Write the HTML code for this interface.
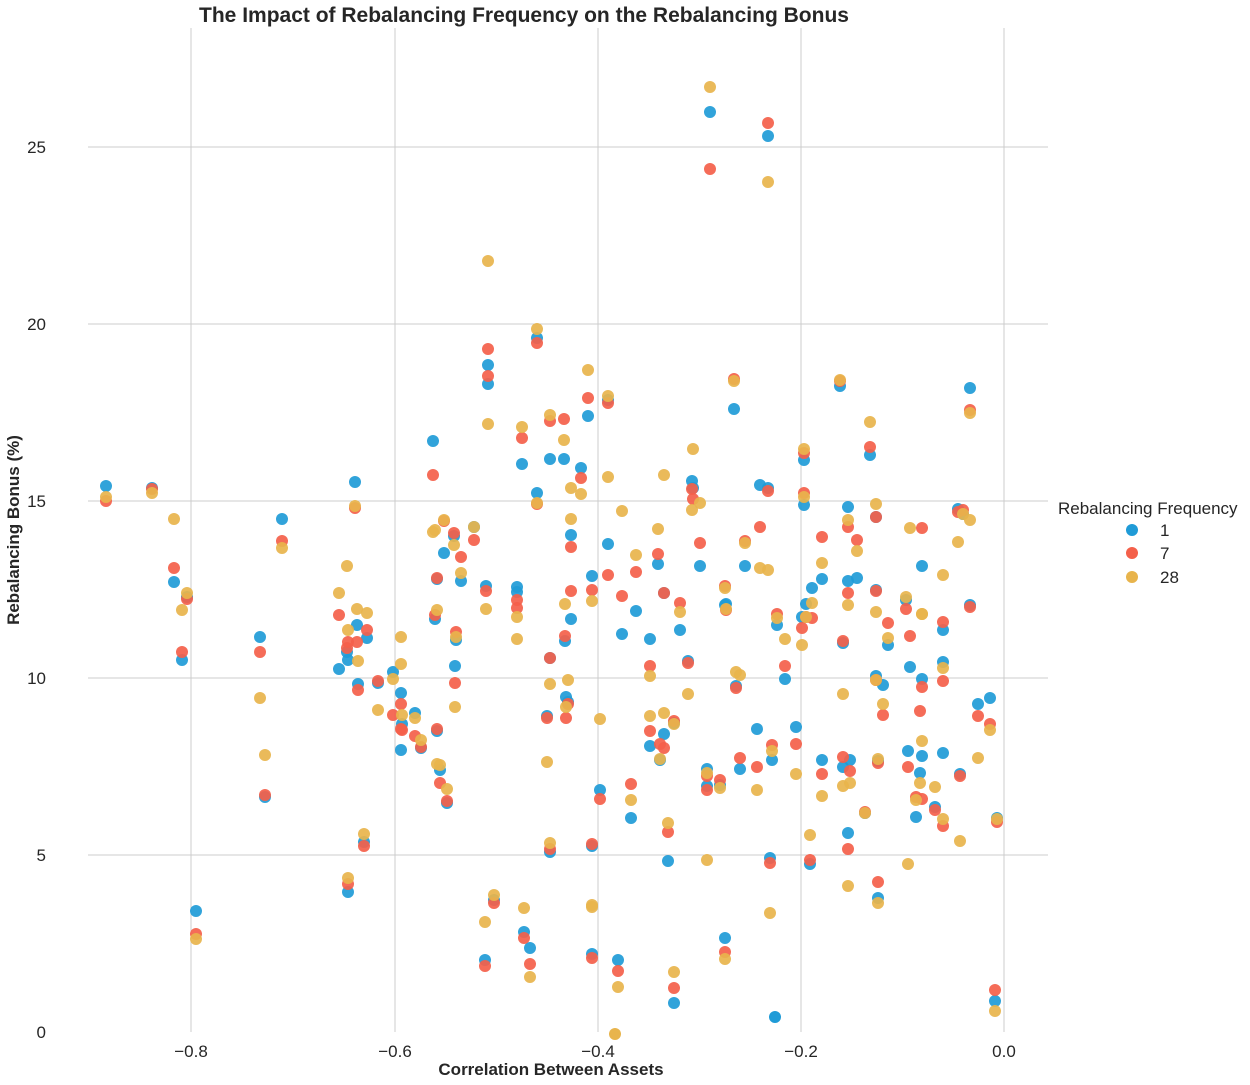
<!DOCTYPE html>
<html><head><meta charset="utf-8"><style>
body{margin:0;background:#fff;}
svg{display:block;font-family:"Liberation Sans",sans-serif;}
</style></head><body>
<svg id="s" width="1250" height="1085" xmlns="http://www.w3.org/2000/svg">
<g stroke="#cccccc" stroke-width="1">
<line x1="191" y1="28" x2="191" y2="1032"/><line x1="395" y1="28" x2="395" y2="1032"/>
<line x1="598" y1="28" x2="598" y2="1032"/><line x1="801" y1="28" x2="801" y2="1032"/>
<line x1="1004" y1="28" x2="1004" y2="1032"/>
<line x1="88" y1="147" x2="1048" y2="147"/><line x1="88" y1="324" x2="1048" y2="324"/>
<line x1="88" y1="501" x2="1048" y2="501"/><line x1="88" y1="678" x2="1048" y2="678"/>
<line x1="88" y1="855" x2="1048" y2="855"/>
</g>
<g font-size="17" fill="#262626" text-anchor="end">
<text x="46" y="1038">0</text><text x="46" y="861">5</text><text x="46" y="684">10</text>
<text x="46" y="507">15</text><text x="46" y="330">20</text><text x="46" y="153">25</text>
</g>
<g font-size="17" fill="#262626" text-anchor="middle">
<text x="191" y="1057">−0.8</text><text x="395" y="1057">−0.6</text><text x="598" y="1057">−0.4</text>
<text x="801" y="1057">−0.2</text><text x="1004" y="1057">0.0</text>
</g>
<text x="551" y="1075" font-size="17" font-weight="bold" fill="#262626" text-anchor="middle">Correlation Between Assets</text>
<text transform="translate(19,530) rotate(-90)" font-size="17" font-weight="bold" fill="#262626" text-anchor="middle">Rebalancing Bonus (%)</text>
<text x="524" y="22" font-size="21" font-weight="bold" fill="#262626" text-anchor="middle">The Impact of Rebalancing Frequency on the Rebalancing Bonus</text>
<g id="pts"></g>
<g font-size="17" fill="#262626">
<text x="1058" y="514">Rebalancing Frequency</text>
<circle cx="1132" cy="530" r="6" fill="#1f9bd7"/><text x="1160" y="536">1</text>
<circle cx="1132" cy="553" r="6" fill="#f4604a"/><text x="1160" y="559">7</text>
<circle cx="1132" cy="577" r="6" fill="#e8b44c"/><text x="1160" y="583">28</text>
</g>
</svg>
<script>
var d=[[106,486,501,497],[152,488,489,493],[174,582,568,519],[182,660,652,610],[187,597,599,593],[196,911,934,939],[260,637,652,698],[265,797,795,755],[282,519,541,548],[339,669,615,593],[347,652,648,566],[348,892,884,878],[348,660,642,630],[355,482,508,506],[357,625,642,609],[358,684,690,661],[364,842,846,834],[367,638,630,613],[378,683,681,710],[393,672,715,679],[401,693,704,637],[401,750,729,664],[402,724,730,715],[415,713,736,718],[421,748,747,740],[433,441,475,532],[435,619,615,530],[437,579,578,610],[437,731,729,764],[440,770,783,765],[444,553,521,520],[447,803,801,789],[454,536,533,545],[455,666,683,707],[456,640,632,637],[461,581,557,573],[474,527,540,527],[485,960,966,922],[488,365,349,261],[488,384,376,424],[486,586,591,609],[494,900,903,895],[517,587,600,617],[517,592,608,639],[522,464,438,427],[524,932,938,908],[530,948,964,977],[537,493,504,503],[537,338,343,329],[547,716,718,762],[550,459,421,415],[550,852,849,843],[550,658,658,684],[564,459,419,440],[565,641,636,604],[566,697,718,707],[568,702,704,680],[571,619,591,488],[571,535,547,519],[581,468,478,494],[588,416,398,370],[592,576,590,601],[592,846,844,905],[592,954,958,907],[600,790,799,719],[608,400,403,396],[608,544,575,477],[618,960,971,987],[622,634,596,511],[631,818,784,800],[636,611,572,555],[650,639,666,676],[650,746,731,716],[658,564,554,529],[660,760,744,759],[664,593,593,475],[664,734,748,713],[668,861,832,823],[674,723,721,724],[674,1003,988,972],[680,630,603,612],[688,661,663,694],[692,481,489,510],[693,488,499,449],[700,566,543,503],[707,769,790,773],[707,786,776,860],[710,112,169,87],[720,785,780,788],[725,605,586,588],[725,938,952,959],[726,604,610,609],[734,409,379,381],[736,686,688,672],[740,769,758,675],[745,566,541,543],[757,729,767,790],[760,485,527,568],[768,488,491,570],[768,136,123,182],[770,858,863,913],[772,760,745,751],[777,625,614,618],[785,679,666,639],[796,727,744,774],[802,617,628,645],[804,460,453,497],[804,505,493,449],[806,604,617,617],[810,864,860,835],[812,588,618,603],[822,579,537,563],[822,760,774,796],[840,386,381,380],[843,643,641,694],[843,767,757,786],[848,507,527,520],[848,833,849,886],[848,581,593,605],[850,760,771,783],[857,578,540,551],[865,813,812,813],[870,455,447,422],[876,590,591,612],[876,517,517,504],[876,676,680,680],[878,898,882,903],[878,761,763,759],[883,685,715,704],[888,645,623,638],[906,600,609,597],[908,751,767,864],[910,667,636,528],[916,817,797,800],[920,773,711,783],[922,679,687,614],[922,756,799,741],[922,566,528,614],[935,807,810,787],[943,630,622,575],[943,753,826,819],[943,662,681,668],[958,509,512,542],[960,774,776,841],[963,514,510,514],[970,388,410,413],[970,605,607,520],[978,704,716,758],[990,698,724,730],[995,1001,990,1011],[997,818,822,819]];
var cols=["#1f9bd7","#f4604a","#e8b44c"],h="";
for(var c=0;c<3;c++)for(var i=0;i<d.length;i++)h+='<circle cx="'+d[i][0]+'" cy="'+d[i][c+1]+'" r="6" fill="'+cols[c]+'" fill-opacity="0.92"/>';
h+='<circle cx="775" cy="1017" r="6" fill="#1f9bd7"/><circle cx="615" cy="1034" r="6" fill="#e8b44c"/>';
document.getElementById("pts").innerHTML=h;
</script>
</body></html>
